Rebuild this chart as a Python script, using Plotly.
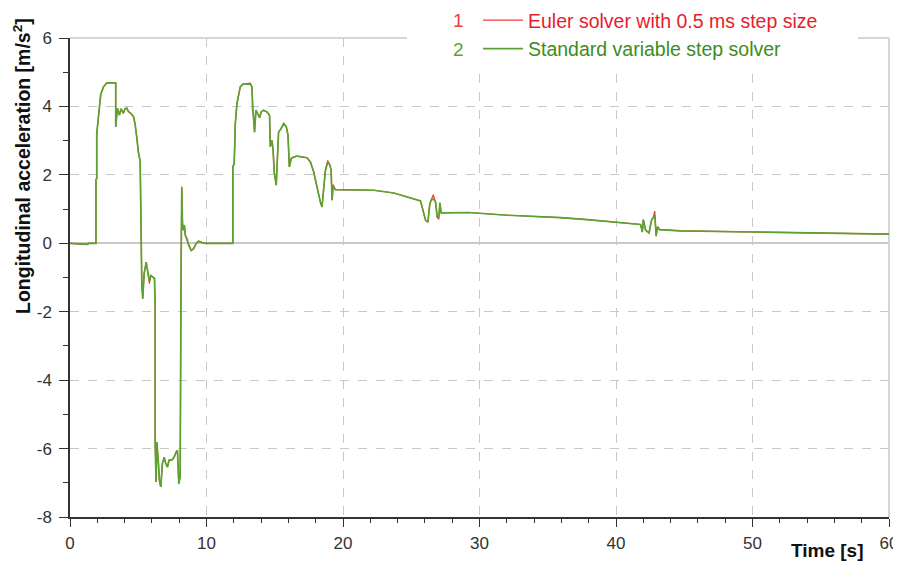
import plotly.graph_objects as go

# ---- data ----
time_s = [0, 1.3, 1.35, 1.9, 1.9, 1.96, 1.96, 2.05, 2.15, 2.25, 2.45, 2.7, 3.35, 3.35,
          3.47, 3.62, 3.74, 3.91, 4.03, 4.16, 4.28, 4.45, 4.65, 4.77, 4.89, 5.01, 5.14,
          5.2, 5.26, 5.33, 5.43, 5.58, 5.70, 5.82, 5.92, 6.06, 6.19, 6.24, 6.24, 6.31,
          6.36, 6.48, 6.55, 6.65, 6.77, 6.90, 7.02, 7.14, 7.26, 7.46, 7.63, 7.78, 7.87,
          7.97, 8.07, 8.14, 8.19, 8.24, 8.31, 8.38, 8.45, 8.56, 8.70, 8.88, 9.05, 9.25,
          9.42, 9.66, 9.9, 11.93, 11.93, 12.03, 12.11, 12.23, 12.35, 12.47, 12.67, 13.21,
          13.33, 13.38, 13.45, 13.52, 13.62, 13.74, 13.89, 14.01, 14.18, 14.43, 14.62,
          14.67, 14.79, 14.87, 14.97, 15.11, 15.21, 15.28, 15.46, 15.65, 15.85, 15.97,
          16.07, 16.21, 16.39, 16.63, 17.36, 17.61, 17.85, 18.1, 18.34, 18.46, 18.59,
          18.71, 18.88, 19.03, 19.13, 19.2, 19.27, 19.44, 22.25, 23.72, 25.68, 25.87,
          26.05, 26.22, 26.36, 26.46, 26.61, 26.78, 26.90, 27.02, 27.10, 27.19, 29.22,
          32.04, 35.95, 37.9, 39.86, 41.8, 41.93, 42.0, 42.17, 42.42, 42.60, 42.74, 42.84,
          42.94, 43.04, 43.18, 44.75, 50.0, 55.0, 60.0]

accel_variable = [0, -0.03, 0, 0, 1.85, 1.9, 3.2, 3.6, 3.98, 4.35, 4.57, 4.69, 4.69, 3.4,
                  3.95, 3.75, 3.93, 3.8, 3.93, 3.95, 3.85, 3.8, 3.7, 3.48, 3.1, 2.66, 2.4,
                  0.6, -1.18, -1.62, -0.89, -0.55, -0.84, -1.1, -0.94, -0.99, -1.03, -1.86,
                  -5.86, -6.98, -5.81, -6.44, -6.93, -7.12, -6.44, -6.25, -6.44, -6.54,
                  -6.34, -6.34, -6.25, -6.10, -6.05, -7.03, -6.83, -0.5, 1.62, 0.58, 0.38,
                  0.53, 0.23, 0.14, -0.06, -0.21, -0.16, 0.0, 0.06, 0.02, 0, 0, 2.23, 2.33,
                  3.5, 4.08, 4.38, 4.57, 4.65, 4.65, 4.57, 3.89, 3.7, 3.25, 3.89, 3.79, 3.67,
                  3.84, 3.89, 3.84, 3.74, 2.82, 3.01, 2.77, 2.04, 1.7, 2.43, 3.25, 3.35, 3.5,
                  3.4, 3.16, 2.23, 2.48, 2.52, 2.55, 2.5, 2.38, 2.09, 1.6, 1.21, 1.06, 1.65,
                  2.13, 2.36, 2.3, 2.13, 1.26, 1.65, 1.57, 1.55, 1.47, 1.24, 0.97, 0.67, 0.62,
                  1.16, 1.26, 1.3, 1.21, 0.77, 0.78, 1.18, 0.89, 0.9, 0.82, 0.75, 0.69, 0.62,
                  0.55, 0.33, 0.69, 0.38, 0.30, 0.67, 0.77, 0.82, 0.23, 0.48, 0.40, 0.36,
                  0.33, 0.30, 0.27]

accel_euler = [0, -0.03, 0, 0, 1.85, 1.9, 3.2, 3.6, 3.98, 4.35, 4.57, 4.69, 4.69, 3.4,
               3.95, 3.75, 3.93, 3.8, 3.93, 3.95, 3.85, 3.8, 3.7, 3.48, 3.1, 2.66, 2.4,
               0.6, -1.18, -1.62, -0.89, -0.55, -0.84, -1.18, -0.94, -0.99, -1.03, -1.86,
               -5.86, -6.98, -5.81, -6.44, -6.93, -7.12, -6.44, -6.25, -6.44, -6.54,
               -6.34, -6.34, -6.25, -6.10, -6.05, -7.03, -6.83, -0.85, 1.66, 0.58, 0.38,
               0.53, 0.23, 0.10, -0.06, -0.21, -0.16, 0.0, 0.06, 0.02, 0, 0, 2.23, 2.33,
               3.5, 4.08, 4.38, 4.57, 4.65, 4.68, 4.57, 3.89, 3.55, 3.25, 3.89, 3.79, 3.67,
               3.84, 3.89, 3.84, 3.74, 2.82, 3.01, 2.77, 2.04, 1.7, 2.43, 3.25, 3.35, 3.5,
               3.4, 3.16, 2.23, 2.48, 2.52, 2.55, 2.5, 2.38, 2.09, 1.6, 1.21, 1.06, 1.65,
               2.13, 2.42, 2.3, 2.13, 1.26, 1.72, 1.57, 1.55, 1.47, 1.24, 0.97, 0.67, 0.62,
               1.16, 1.26, 1.42, 1.21, 0.77, 0.70, 1.18, 0.89, 0.9, 0.82, 0.75, 0.69, 0.62,
               0.55, 0.33, 0.69, 0.38, 0.30, 0.67, 0.77, 0.94, 0.20, 0.48, 0.40, 0.36,
               0.33, 0.30, 0.27]

series_names = ["Euler solver with 0.5 ms step size", "Standard variable step solver"]
x_ticks = [0, 10, 20, 30, 40, 50, 60]
y_ticks = [-8, -6, -4, -2, 0, 2, 4, 6]
y_tick_labels = ["-8", "-6", "-4", "-2", "0", "2", "4", "6"]

RED = "#ee3b3b"
GREEN = "#5ba22f"
FONT = "Liberation Sans, Arial, sans-serif"

# plot area: 819 x 479 px; the page adds an 8 px body margin
PW, PH = 819, 479

fig = go.Figure()
fig.add_trace(go.Scatter(
    x=time_s, y=accel_euler, mode="lines", legendgroup="1",
    name="<span style='color:#e8202a'>" + series_names[0] + "</span>",
    line=dict(color=RED, width=1.2)))
fig.add_trace(go.Scatter(
    x=time_s, y=accel_variable, mode="lines", legendgroup="2",
    name="<span style='color:#3d8c1c'>" + series_names[1] + "</span>",
    line=dict(color=GREEN, width=1.7)))

fig.update_layout(
    width=893, height=557,
    margin=dict(l=62, r=12, t=30, b=48, autoexpand=False),
    paper_bgcolor="white", plot_bgcolor="white",
    font=dict(family=FONT, size=17, color="#333333"),
    showlegend=True,
    legend=dict(x=(478 - 70) / PW, y=1 + 37 / PH, xanchor="left", yanchor="top",
                bgcolor="white", borderwidth=0,
                font=dict(family=FONT, size=19.5),
                tracegroupgap=0, itemwidth=40),
    xaxis=dict(range=[0, 60], tickvals=x_ticks, showline=True, linecolor="#333333",
               linewidth=1.5, ticks="outside", ticklen=8, tickcolor="#333333",
               showgrid=True, gridcolor="#c8c8c8", griddash="dash", gridwidth=1,
               zeroline=False, ticklabelstandoff=2,
               minor=dict(dtick=2, ticks="outside", ticklen=4,
                          tickcolor="#333333", showgrid=False),
               tickfont=dict(size=17, color="#333333")),
    yaxis=dict(range=[-8, 6], tickvals=y_ticks, ticktext=y_tick_labels,
               showline=True, linecolor="#333333",
               linewidth=1.5, ticks="outside", ticklen=9, tickcolor="#333333",
               showgrid=True, gridcolor="#c8c8c8", griddash="dash", gridwidth=1,
               zeroline=True, zerolinecolor="#c8c8c8", zerolinewidth=1.5,
               ticklabelstandoff=4,
               minor=dict(dtick=1, ticks="outside", ticklen=5, tickcolor="#333333",
                          showgrid=False),
               tickfont=dict(size=17, color="#333333")),
    shapes=[
        dict(type="line", xref="paper", yref="paper", x0=0, x1=1, y0=1, y1=1,
             line=dict(color="#c8c8c8", width=1.5), layer="below"),
        dict(type="line", xref="paper", yref="paper", x0=1, x1=1, y0=0, y1=1,
             line=dict(color="#c8c8c8", width=1.5), layer="below"),
        dict(type="rect", xref="paper", yref="paper",
             x0=(407 - 70) / PW, x1=(858 - 70) / PW, y0=1 - 3 / PH, y1=1 + 3 / PH,
             fillcolor="white", line=dict(width=0), layer="above"),
    ],
    annotations=[
        dict(text="<b>Longitudinal acceleration [m/s<sup>2</sup>]</b>", textangle=-90,
             xref="paper", yref="paper", x=(22 - 70) / PW, y=(517 - 166) / PH,
             showarrow=False, font=dict(family=FONT, size=19.5, color="#111111"),
             xanchor="center", yanchor="middle"),
        dict(text="<b>Time [s]</b>", xref="paper", yref="paper",
             x=(827 - 70) / PW, y=(517 - 550) / PH,
             showarrow=False, font=dict(family=FONT, size=19, color="#111111"),
             xanchor="center", yanchor="middle"),
        dict(text="1", xref="paper", yref="paper", x=(458 - 70) / PW, y=(517 - 20) / PH,
             showarrow=False, font=dict(family=FONT, size=19, color="#ee3b3b"),
             xanchor="center", yanchor="middle"),
        dict(text="2", xref="paper", yref="paper", x=(458 - 70) / PW, y=(517 - 49) / PH,
             showarrow=False, font=dict(family=FONT, size=19, color="#5ba22f"),
             xanchor="center", yanchor="middle"),
    ],
)

fig.write_html("out.html")
